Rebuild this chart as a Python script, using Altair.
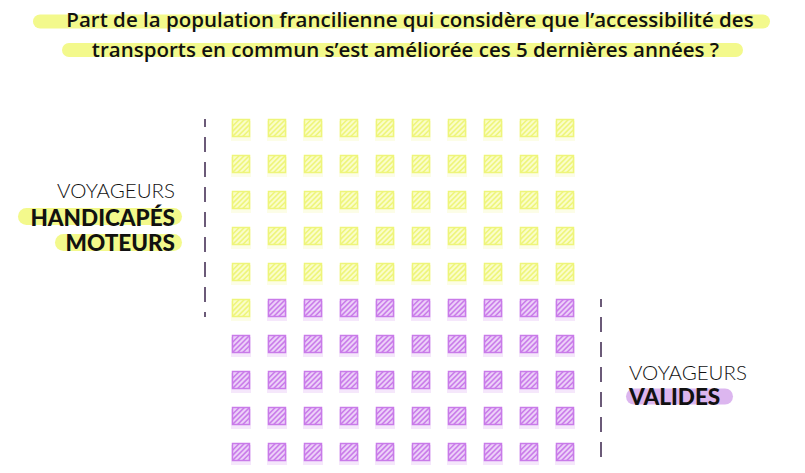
import altair as alt
import pandas as pd

# ---- data ----
title_lines = [
    "Part de la population francilienne qui considère que l’accessibilité des",
    "transports en commun s’est améliorée ces 5 dernières années ?",
]
groups = ["Voyageurs handicapés moteurs", "Voyageurs valides"]
counts = [51, 49]
label_thin = ["VOYAGEURS", "VOYAGEURS"]
label_bold = [["HANDICAPÉS", "MOTEURS"], ["VALIDES"]]
n_cols = 10

strong_colors = ["#eef57a", "#c97be9"]
light_colors = ["#fafdc9", "#ecd0f8"]
highlight_colors = ["#f3f98c", "#dcb6ef"]
dash_color = "#6b5a78"

# build waffle cells
cells = []
k = 0
for g, c in zip(groups, counts):
    for i in range(c):
        cells.append({"group": g, "col": k % n_cols, "row": k // n_cols})
        k += 1
cells = pd.DataFrame(cells)

# group extent lines
ext = cells.groupby("group", sort=False)["row"].agg(["min", "max"]).reset_index()
ext["y1"] = ext["min"] - 0.25
ext["y2"] = ext["max"] + 0.25
ext["x"] = [-1, n_cols]

# ---- layout ----
W, H = 789, 457
x0, y0, step = 233, 120, 36
xs = alt.Scale(domain=[-x0 / step, (W - x0) / step], nice=False, zero=False)
ys = alt.Scale(domain=[-y0 / step, (H - y0) / step], nice=False, zero=False, reverse=True)
X = alt.X("col:Q", scale=xs, axis=None)
Y = alt.Y("row:Q", scale=ys, axis=None)

sq = 17
stripes = ("M-1,-0.2L-0.2,-1 M-1,0.4L0.4,-1 M-1,1L1,-1 "
           "M-0.4,1L1,-0.4 M0.2,1L1,0.2")

base = alt.Chart(cells)

shadow = base.mark_point(shape="square", filled=True, size=(sq + 3) ** 2,
                         opacity=0.18, yOffset=3).encode(
    x=X, y=Y,
    color=alt.Color("group:N", scale=alt.Scale(domain=groups, range=strong_colors), legend=None),
)
squares = base.mark_point(shape="square", filled=True, size=sq ** 2,
                          strokeWidth=1.5, opacity=1).encode(
    x=X, y=Y,
    fill=alt.Fill("group:N", scale=alt.Scale(domain=groups, range=light_colors), legend=None),
    stroke=alt.Stroke("group:N", scale=alt.Scale(domain=groups, range=strong_colors), legend=None),
)
hatch = base.mark_point(shape=stripes, filled=False, size=sq ** 2,
                        strokeWidth=1.6, opacity=1).encode(
    x=X, y=Y,
    stroke=alt.Stroke("group:N", scale=alt.Scale(domain=groups, range=strong_colors), legend=None),
)

lines = alt.Chart(ext).mark_rule(color=dash_color, strokeWidth=2,
                                 strokeDash=[15, 10], strokeDashOffset=7).encode(
    x=alt.X("x:Q", scale=xs, axis=None),
    y=alt.Y("y1:Q", scale=ys, axis=None),
    y2="y2:Q",
)

one = alt.Data(values=[{}])


def pill(x1, x2, y, w, color):
    return alt.Chart(one).mark_rule(strokeWidth=w, strokeCap="round", color=color).encode(
        x=alt.value(x1), x2=alt.value(x2), y=alt.value(y), y2=alt.value(y))


def txt(s, x, y, align, size, weight, font, baseline="middle"):
    return alt.Chart(one).mark_text(align=align, baseline=baseline, fontSize=size,
                                    fontWeight=weight, font=font, color="#111111").encode(
        x=alt.value(x), y=alt.value(y), text=alt.value(s))


title_font = "Open Sans"
layers = [
    pill(32, 755, 13.5, 14, highlight_colors[0]),
    pill(61, 728, 42, 14, highlight_colors[0]),
    txt(title_lines[0], 402, 19, "center", 20.5, 600, title_font, "alphabetic"),
    txt(title_lines[1], 397.5, 48.5, "center", 20.5, 600, title_font, "alphabetic"),
    # left labels
    pill(18.5, 165.5, 208.5, 17, highlight_colors[0]),
    pill(55.5, 165.5, 234.5, 17, highlight_colors[0]),
    txt(label_thin[0], 167, 184, "right", 20.5, 300, "Lato"),
    txt(label_bold[0][0], 167, 211, "right", 22.5, 900, "Lato"),
    txt(label_bold[0][1], 167, 236, "right", 22.5, 900, "Lato"),
    # right labels
    pill(626, 717, 388.5, 16, highlight_colors[1]),
    txt(label_thin[1], 621, 366, "left", 20.5, 300, "Lato"),
    txt(label_bold[1][0], 621, 389.5, "left", 22.5, 900, "Lato"),
]

chart = alt.layer(*layers, lines, shadow, squares, hatch).properties(
    width=W, height=H, padding=0, autosize=alt.AutoSizeParams(type="none"),
    background="white",
).configure_view(stroke=None)

chart.save("out.html", embed_options={"renderer": "svg", "actions": False})
